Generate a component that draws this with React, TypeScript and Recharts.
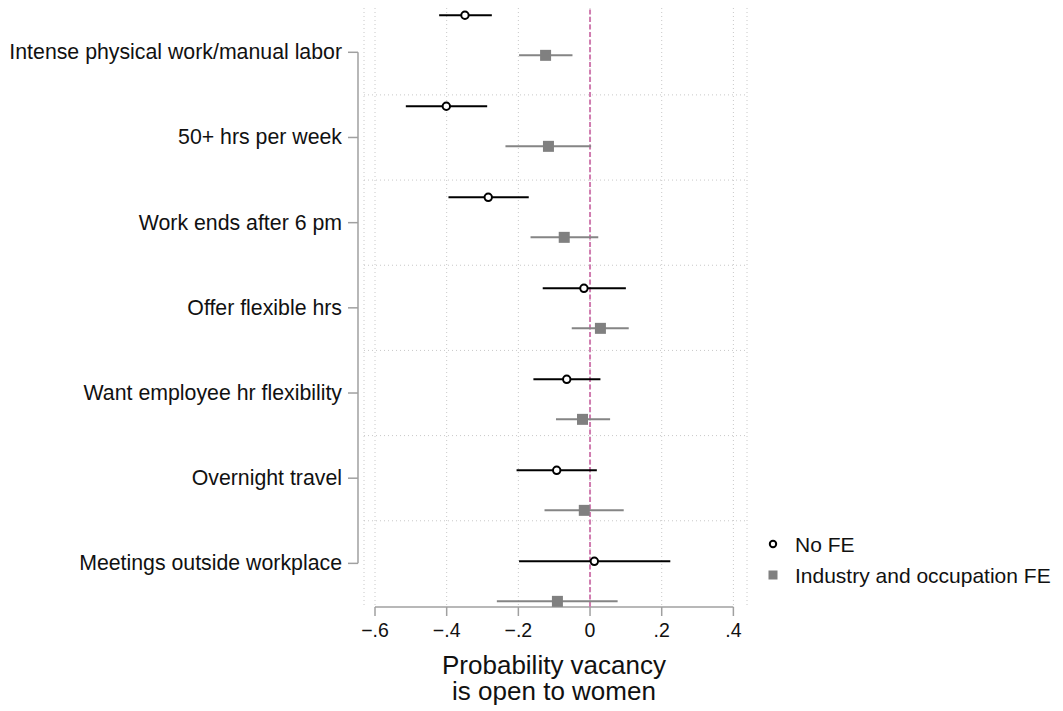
import {
  ComposedChart, Scatter, ErrorBar, XAxis, YAxis, CartesianGrid, ReferenceLine, Legend,
} from 'recharts'

// rows of the coefficient plot, top to bottom
const categories = [
  'Intense physical work/manual labor',
  '50+ hrs per week',
  'Work ends after 6 pm',
  'Offer flexible hrs',
  'Want employee hr flexibility',
  'Overnight travel',
  'Meetings outside workplace',
]

// No FE: estimate and 95% CI
const noFeEst = [-0.349, -0.401, -0.284, -0.017, -0.065, -0.093, 0.012]
const noFeLo = [-0.421, -0.514, -0.395, -0.132, -0.158, -0.205, -0.198]
const noFeHi = [-0.274, -0.287, -0.171, 0.1, 0.029, 0.019, 0.224]

// Industry and occupation FE: estimate and 95% CI
const feEst = [-0.124, -0.116, -0.072, 0.029, -0.021, -0.016, -0.091]
const feLo = [-0.198, -0.236, -0.166, -0.051, -0.095, -0.127, -0.26]
const feHi = [-0.049, 0.003, 0.023, 0.108, 0.056, 0.094, 0.077]

const xTicks = [-0.6, -0.4, -0.2, 0, 0.2, 0.4]

// layout of the row axis (Stata-style offsets)
const FE_OFFSET = 0.44
const LABEL_START = 0.4066
const LABEL_STEP = 0.936
const Y_DOMAIN: [number, number] = [-0.0802, 6.502]
const X_DOMAIN: [number, number] = [-0.6307, 0.438]

const AXIS = '#a0a0a0'
const GRID = '#c8c8c8'
const FONT = '"Liberation Sans", Arial, Helvetica, sans-serif'

const build = (est: number[], lo: number[], hi: number[], offset: number) =>
  est.map((v, i) => ({ x: v, y: i + offset, err: [v - lo[i], hi[i] - v] }))

const noFeData = build(noFeEst, noFeLo, noFeHi, 0)
const feData = build(feEst, feLo, feHi, FE_OFFSET)

const labelTicks = categories.map((_, i) => LABEL_START + LABEL_STEP * i)
const gridRows = categories.slice(1).map((_, i) => LABEL_START + LABEL_STEP * (i + 0.5))

const fmtX = (v: number) =>
  v === 0 ? '0' : (v < 0 ? '\u2212' : '') + Math.abs(v).toFixed(1).replace(/^0/, '')

function CatTick(props: any) {
  const { x, y, payload } = props
  const idx = labelTicks.findIndex(t => Math.abs(t - payload.value) < 1e-6)
  return (
    <g>
      <line x1={x - 16} x2={x - 6} y1={y} y2={y} stroke={AXIS} strokeWidth={1.5} />
      <text x={x - 22} y={y} textAnchor="end" dominantBaseline="central" fontSize={21.3} fill="#111">
        {categories[idx]}
      </text>
    </g>
  )
}

const Circle = (props: any) => (
  <circle cx={props.cx} cy={props.cy} r={3.7} fill="#fff" stroke="#000" strokeWidth={2} />
)
const Square = (props: any) => (
  <rect x={props.cx - 5.5} y={props.cy - 5.5} width={11} height={11} fill="#808080" />
)

function LegendBox() {
  return (
    <svg width={300} height={70}>
      <circle cx={13} cy={19} r={3.2} fill="#fff" stroke="#000" strokeWidth={2} />
      <text x={35} y={19} dominantBaseline="central" fontSize={21} fill="#111" fontFamily={FONT}>No FE</text>
      <rect x={8.5} y={45.5} width={9} height={9} fill="#808080" />
      <text x={35} y={50} dominantBaseline="central" fontSize={21} fill="#111" fontFamily={FONT}>
        Industry and occupation FE
      </text>
    </svg>
  )
}

function AxisTitle(props: any) {
  const vb = props.viewBox
  const cx = vb.x + vb.width / 2 - 1.5
  return (
    <text textAnchor="middle" fontSize={26} fill="#111">
      <tspan x={cx} y={vb.y + 67}>Probability vacancy</tspan>
      <tspan x={cx} y={vb.y + 93}>is open to women</tspan>
    </text>
  )
}

export default function App() {
  return (
    <div style={{ position: 'absolute', left: 0, top: 0, background: '#fff' }}>
      <ComposedChart
        width={1063}
        height={711}
        margin={{ top: 8, right: 316, left: 363, bottom: 44 }}
        style={{ fontFamily: FONT }}
      >
        <CartesianGrid horizontal={false} stroke={GRID} strokeDasharray="1 3" />
        {gridRows.map(v => (
          <ReferenceLine key={v} y={v} stroke={GRID} strokeDasharray="1 3" />
        ))}
        <XAxis
          type="number"
          dataKey="x"
          domain={X_DOMAIN}
          allowDataOverflow
          ticks={xTicks}
          interval={0}
          tickFormatter={fmtX}
          axisLine={false}
          tickLine={{ stroke: AXIS, strokeWidth: 1.5 }}
          tickSize={9}
          tickMargin={7}
          height={60}
          tick={{ fill: '#111', fontSize: 19.5 }}
          label={{ content: AxisTitle }}
        />
        <YAxis
          type="number"
          dataKey="y"
          domain={Y_DOMAIN}
          allowDataOverflow
          reversed
          ticks={labelTicks}
          interval={0}
          width={1}
          axisLine={false}
          tickLine={false}
          tickSize={0}
          tickMargin={0}
          tick={<CatTick />}
        />
        <ReferenceLine
          segment={[{ x: X_DOMAIN[0] - 6 / 358.3, y: labelTicks[0] }, { x: X_DOMAIN[0] - 6 / 358.3, y: labelTicks[labelTicks.length - 1] }]}
          stroke={AXIS}
          strokeWidth={1.5}
          ifOverflow="visible"
        />
        <ReferenceLine
          segment={[{ x: xTicks[0], y: Y_DOMAIN[1] }, { x: xTicks[xTicks.length - 1], y: Y_DOMAIN[1] }]}
          stroke={AXIS}
          strokeWidth={1.5}
          ifOverflow="visible"
        />
        <ReferenceLine x={0} stroke="#d07cb0" strokeWidth={2} strokeDasharray="5 2.5" />
        <Scatter name="No FE" data={noFeData} fill="#000" shape={Circle} isAnimationActive={false}>
          <ErrorBar dataKey="err" direction="x" width={0} stroke="#000" strokeWidth={2} isAnimationActive={false} />
        </Scatter>
        <Scatter name="Industry and occupation FE" data={feData} fill="#808080" shape={Square} isAnimationActive={false}>
          <ErrorBar dataKey="err" direction="x" width={0} stroke="#858585" strokeWidth={2} isAnimationActive={false} />
        </Scatter>
        <Legend
          layout="vertical"
          align="center"
          verticalAlign="middle"
          content={() => <LegendBox />}
          wrapperStyle={{ left: 760, top: 525, width: 300, height: 70 }}
        />
      </ComposedChart>
    </div>
  )
}
